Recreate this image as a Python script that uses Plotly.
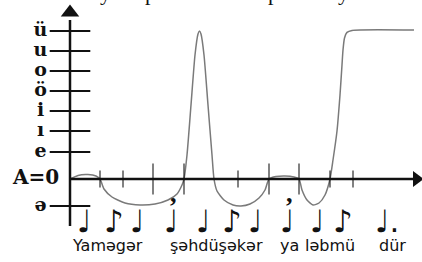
import plotly.graph_objects as go

# ---- data -------------------------------------------------------------
level_labels = ["ə", "e", "ı", "i", "ö", "o", "u", "ü"]
level_values = [-1.35, 1.35, 2.4, 3.4, 4.4, 5.4, 6.4, 7.4]
origin_label = "A=0"

tick_x = [3.0, 5.3, 8.3, 11.4, 16.8, 19.9, 22.9, 26.0, 28.3]
tick_long = [False, False, True, True, False, True, True, False, False]

contour_x = [0.0, 0.8, 1.8, 2.6, 3.0, 3.4, 4.2, 5.5, 7.0, 8.5, 9.8, 10.7, 11.2, 11.4,
             11.7, 12.1, 12.5, 12.8, 12.95, 13.1, 13.4, 13.8, 14.2, 14.4,
             14.7, 15.4, 16.3, 17.1, 18.0, 18.9, 19.5, 19.9,
             20.6, 21.5, 22.4, 22.9,
             23.2, 23.7, 24.3, 24.9, 25.5, 26.0,
             26.3, 26.7, 27.0, 27.2, 27.3, 27.45, 27.7, 28.2, 34.4]
contour_y = [0.0, 0.18, 0.22, 0.15, 0.0, -0.5, -0.9, -1.2, -1.3, -1.25, -1.05, -0.75, -0.3, 0.0,
             1.2, 3.7, 6.2, 7.25, 7.4, 7.25, 6.2, 3.7, 1.2, 0.0,
             -0.6, -1.05, -1.3, -1.35, -1.25, -0.95, -0.55, 0.0,
             0.12, 0.15, 0.1, 0.0,
             -0.55, -1.05, -1.3, -1.2, -0.8, 0.0,
             0.95, 2.4, 4.2, 5.7, 6.45, 7.05, 7.33, 7.43, 7.45]

note_x = [1.3, 4.0, 6.6, 10.0, 13.2, 15.8, 18.4, 21.6, 24.6, 26.9, 31.1]
note_kind = ["q", "e", "q", "q", "q", "e", "q", "q", "q", "e", "dq"]
breath_after = [3, 7]

lyric_words = ["Yaməgər", "şəhdüşəkər", "ya", "ləbmü", "dür"]
lyric_x = [0.3, 10.0, 21.0, 23.5, 30.9]

title_letters = ["y", "p", "p", "y"]
title_x = [3.5, 8.0, 20.3, 27.3]

# ---- figure -----------------------------------------------------------
glyph = {"q": "♩", "e": "♪", "dq": "♩."}
serif = "DejaVu Serif, Liberation Serif, serif"
sans = "DejaVu Sans, Liberation Sans, sans-serif"
ink = "#111"

fig = go.Figure()

# contour
fig.add_trace(go.Scatter(x=contour_x, y=contour_y, mode="lines",
                         line=dict(color="#7a7a7a", width=1.5, shape="spline", smoothing=0.6),
                         hoverinfo="skip"))

# axes lines
fig.add_trace(go.Scatter(x=[0, 0], y=[-2.35, 7.95], mode="lines",
                         line=dict(color=ink, width=2.5), hoverinfo="skip"))
fig.add_trace(go.Scatter(x=[0, 34.3], y=[0, 0], mode="lines",
                         line=dict(color=ink, width=2.5), hoverinfo="skip"))
# arrow heads
fig.add_trace(go.Scatter(x=[0], y=[8.33], mode="markers",
                         marker=dict(symbol="triangle-up", size=16, color=ink), hoverinfo="skip"))
fig.add_trace(go.Scatter(x=[34.65], y=[0], mode="markers",
                         marker=dict(symbol="triangle-right", size=14, color=ink), hoverinfo="skip"))

# y ticks
fig.add_trace(go.Scatter(x=[0] * len(level_values), y=level_values, mode="markers",
                         marker=dict(symbol="line-ew", size=29,
                                     line=dict(color=ink, width=2)), hoverinfo="skip"))
# x ticks
fig.add_trace(go.Scatter(x=tick_x, y=[0] * len(tick_x), mode="markers",
                         marker=dict(symbol="line-ns", size=[22 if t else 12 for t in tick_long],
                                     line=dict(color=ink, width=1.5)), hoverinfo="skip"))

# level labels
fig.add_trace(go.Scatter(x=[-2.95] * len(level_values), y=level_values, mode="text",
                         text=level_labels, textposition="middle center",
                         textfont=dict(family=serif, size=19, color=ink, weight="bold"),
                         hoverinfo="skip"))
fig.add_trace(go.Scatter(x=[-3.4], y=[0], mode="text", text=[origin_label],
                         textposition="middle center",
                         textfont=dict(family=serif, size=20, color=ink, weight="bold"),
                         hoverinfo="skip"))

# notes (text starts just left of the note head)
fig.add_trace(go.Scatter(x=[v - 0.6 for v in note_x], y=[-2.25] * len(note_x), mode="text",
                         text=[glyph[k] for k in note_kind], textposition="middle right",
                         textfont=dict(family="DejaVu Sans", size=31, color=ink),
                         hoverinfo="skip"))
# breath marks
fig.add_trace(go.Scatter(x=[note_x[i] + 0.3 for i in breath_after], y=[-1.45] * len(breath_after),
                         mode="text", text=["’"] * len(breath_after), textposition="middle center",
                         textfont=dict(family="Liberation Serif", size=26, color=ink, weight="bold"),
                         hoverinfo="skip"))

# lyrics
fig.add_trace(go.Scatter(x=lyric_x, y=[-3.4] * len(lyric_x), mode="text",
                         text=lyric_words, textposition="middle right",
                         textfont=dict(family=sans, size=16, color=ink),
                         hoverinfo="skip"))

# clipped title line above the chart (only descenders visible)
for xv, t in zip(title_x, title_letters):
    fig.add_annotation(x=xv, xref="x", y=1, yref="paper", text=t, showarrow=False,
                       xanchor="center", yanchor="bottom", yshift=-6, borderpad=0,
                       font=dict(family="Liberation Serif", size=22, color=ink))

fig.update_layout(width=422, height=262, margin=dict(l=0, r=0, t=0, b=0),
                  paper_bgcolor="white", plot_bgcolor="white", showlegend=False,
                  xaxis=dict(range=[-7.0, 35.2], visible=False, fixedrange=True),
                  yaxis=dict(range=[-4.15, 8.95], visible=False, fixedrange=True))

fig.write_html("out.html", config={"displayModeBar": False, "staticPlot": True},
               post_script="document.body.style.margin='0';document.body.style.overflow='hidden';")
